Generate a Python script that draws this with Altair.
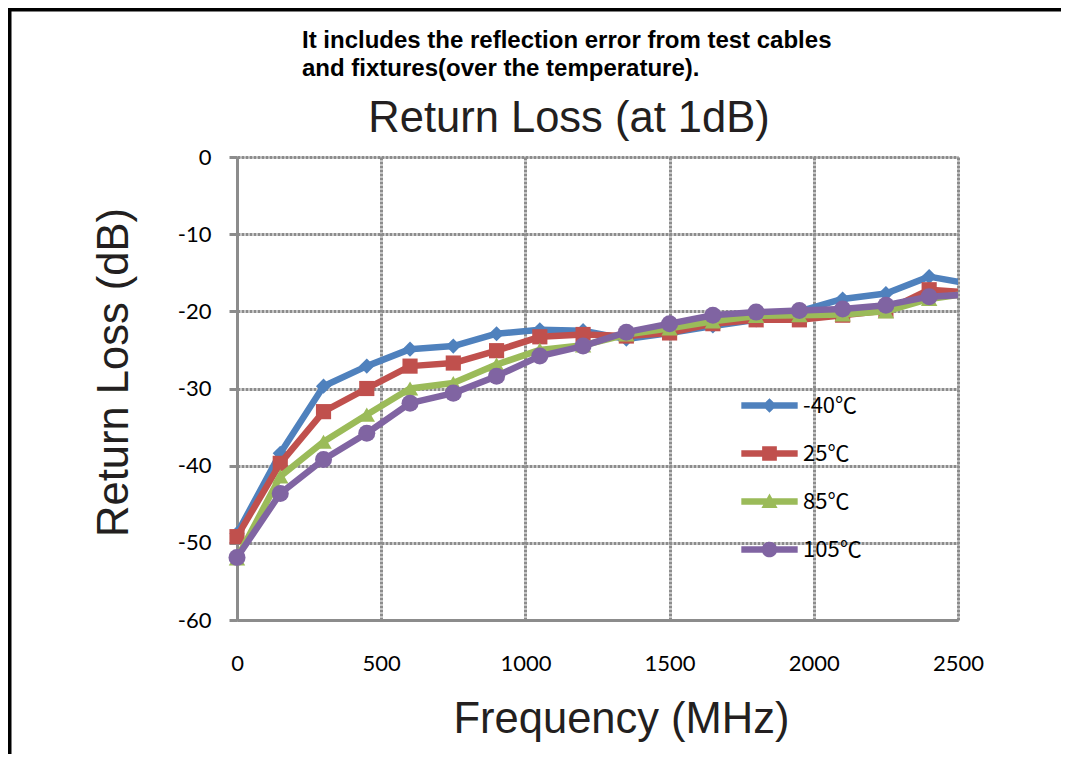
import altair as alt
import pandas as pd

# ---------------- data ----------------
freq_mhz = [0, 150, 300, 450, 600, 750, 900, 1050, 1200, 1350, 1500, 1650,
            1800, 1950, 2100, 2250, 2400, 2550]
series_names = ["-40℃", "25℃", "85℃", "105℃"]
rl_m40 = [-48.8, -38.4, -29.7, -27.1, -24.9, -24.5, -22.9, -22.4, -22.5, -23.6,
          -22.8, -21.9, -21.1, -20.0, -18.4, -17.7, -15.5, -16.5]
rl_25 = [-49.2, -39.7, -33.0, -30.0, -27.1, -26.7, -25.1, -23.3, -23.0, -23.2,
         -22.8, -21.6, -21.1, -21.1, -20.5, -19.9, -17.2, -17.6]
rl_85 = [-52.0, -41.4, -36.9, -33.4, -30.0, -29.3, -26.9, -25.0, -24.4, -23.0,
         -22.2, -21.3, -20.6, -20.5, -20.4, -20.0, -18.4, -17.6]
rl_105 = [-51.9, -43.6, -39.2, -35.8, -31.9, -30.6, -28.4, -25.8, -24.5, -22.7,
          -21.6, -20.5, -20.1, -19.9, -19.7, -19.2, -18.1, -17.8]
x_ticks = [0, 500, 1000, 1500, 2000, 2500]
y_ticks = [0, -10, -20, -30, -40, -50, -60]
note_text = "It includes the reflection error from test cables\nand fixtures(over the temperature)."
headline = "Return Loss (at 1dB)"

# ---------------- styles ----------------
colors = ["#4F81BD", "#C0504D", "#9BBB59", "#8064A2"]
shapes = ["diamond", "square", "triangle-up", "circle"]
sizes = [230, 230, 270, 290]
legend_paths = [
    "M-1.15,-0.13H1.15V0.13H-1.15Z M0,-0.3L0.3,0L0,0.3L-0.3,0Z",
    "M-1.15,-0.13H1.15V0.13H-1.15Z M-0.3,-0.3H0.3V0.3H-0.3Z",
    "M-1.15,-0.13H1.15V0.13H-1.15Z M0,-0.33L0.33,0.27H-0.33Z",
    "M-1.15,-0.13H1.15V0.13H-1.15Z M-0.32,0A0.32,0.32,0,1,1,0.32,0A0.32,0.32,0,1,1,-0.32,0Z",
]
GRAY = "#8c8c8c"
TXT = "#231f20"
TITLE_FONT = "Liberation Sans"
LABEL_FONT = "Lato"
LEGEND_FONT = "Noto Sans CJK JP"

rows = []
for name, vals in zip(series_names, [rl_m40, rl_25, rl_85, rl_105]):
    for f, v in zip(freq_mhz, vals):
        rows.append({"series": name, "freq": f, "rl": v})
df = pd.DataFrame(rows)

x_enc = alt.X(
    "freq:Q",
    scale=alt.Scale(domain=[0, 2500], nice=False, zero=False),
    axis=alt.Axis(
        values=x_ticks, title="Frequency (MHz)", ticks=False, tickSize=0,
        labelExpr="'' + datum.value", labelFlush=False, labelOverlap=False,
        labelFont=LABEL_FONT, labelFontSize=22, labelColor="black", labelPadding=33,
        domainColor=GRAY, domainWidth=3, gridColor=GRAY, gridWidth=3, gridDash=[3, 1],
        titleFont=TITLE_FONT, titleFontSize=43.5, titleFontWeight="normal", titleColor=TXT,
        titleX=384, titleY=112, titleBaseline="alphabetic",
    ),
)
y_enc = alt.Y(
    "rl:Q",
    scale=alt.Scale(domain=[-60, 0], nice=False, zero=False),
    axis=alt.Axis(
        values=y_ticks, title="Return Loss (dB)", tickSize=8, tickColor=GRAY, tickWidth=3,
        labelExpr="'' + datum.value", labelFlush=False, labelOverlap=False,
        labelFont=LABEL_FONT, labelFontSize=22, labelColor="black", labelPadding=18,
        domainColor=GRAY, domainWidth=3, gridColor=GRAY, gridWidth=3, gridDash=[3, 1],
        titleFont=TITLE_FONT, titleFontSize=43.5, titleFontWeight="normal", titleColor=TXT,
        titleX=-110, titleY=215, titleBaseline="alphabetic", titleAngle=270,
    ),
)

legend_obj = alt.Legend(
    title=None, orient="none", legendX=508, legendY=224, padding=0, rowPadding=12,
    symbolSize=2401, symbolStrokeWidth=0, symbolOpacity=1,
    labelFont=LEGEND_FONT, labelFontSize=22, labelColor="black", labelOffset=9,
)

# legend-only layer (no data rows drawn)
legend_layer = alt.Chart(df).transform_filter(alt.datum.freq < -1000).mark_point(
    filled=True, opacity=1
).encode(
    x=x_enc, y=y_enc,
    color=alt.Color("series:N", scale=alt.Scale(domain=series_names, range=colors), legend=legend_obj),
    shape=alt.Shape("series:N", scale=alt.Scale(domain=series_names, range=legend_paths), legend=legend_obj),
)

layers = [legend_layer]
for name, col, shp, sz in zip(series_names, colors, shapes, sizes):
    base = alt.Chart(df).transform_filter(alt.FieldEqualPredicate(field="series", equal=name))
    line = base.mark_line(
        color=col, strokeWidth=6.5, clip=True, strokeCap="round", strokeJoin="round"
    ).encode(x=x_enc, y=y_enc)
    pts = base.transform_filter(alt.datum.freq <= 2500).mark_point(
        shape=shp, filled=True, size=sz, color=col, opacity=1, strokeWidth=0
    ).encode(x=x_enc, y=y_enc)
    layers += [line, pts]

text_df = pd.DataFrame({"note": [note_text], "head": [headline]})
note = alt.Chart(text_df).mark_text(
    align="left", baseline="alphabetic", font=TITLE_FONT, fontSize=24, fontWeight="bold",
    color="black", lineBreak="\n", lineHeight=28,
).encode(text="note:N", x=alt.value(65), y=alt.value(-109))
head = alt.Chart(text_df).mark_text(
    align="center", baseline="alphabetic", font=TITLE_FONT, fontSize=43.5, color=TXT,
).encode(text="head:N", x=alt.value(332), y=alt.value(-25))

border_top = alt.Chart(text_df).mark_rule(color="black", strokeWidth=3.5).encode(
    x=alt.value(-229), x2=alt.value(824), y=alt.value(-147.25))
border_left = alt.Chart(text_df).mark_rule(color="black", strokeWidth=3.5).encode(
    x=alt.value(-227.25), y=alt.value(-149), y2=alt.value(597))

chart = alt.layer(*layers, note, head, border_top, border_left).properties(
    width=721, height=463,
    autosize=alt.AutoSizeParams(type="none"),
    padding={"left": 229, "top": 149, "right": 103, "bottom": 134},
).configure_view(stroke=GRAY, strokeWidth=3).configure(background="white")

chart.save("out.html", embed_options={"renderer": "svg", "actions": False})
